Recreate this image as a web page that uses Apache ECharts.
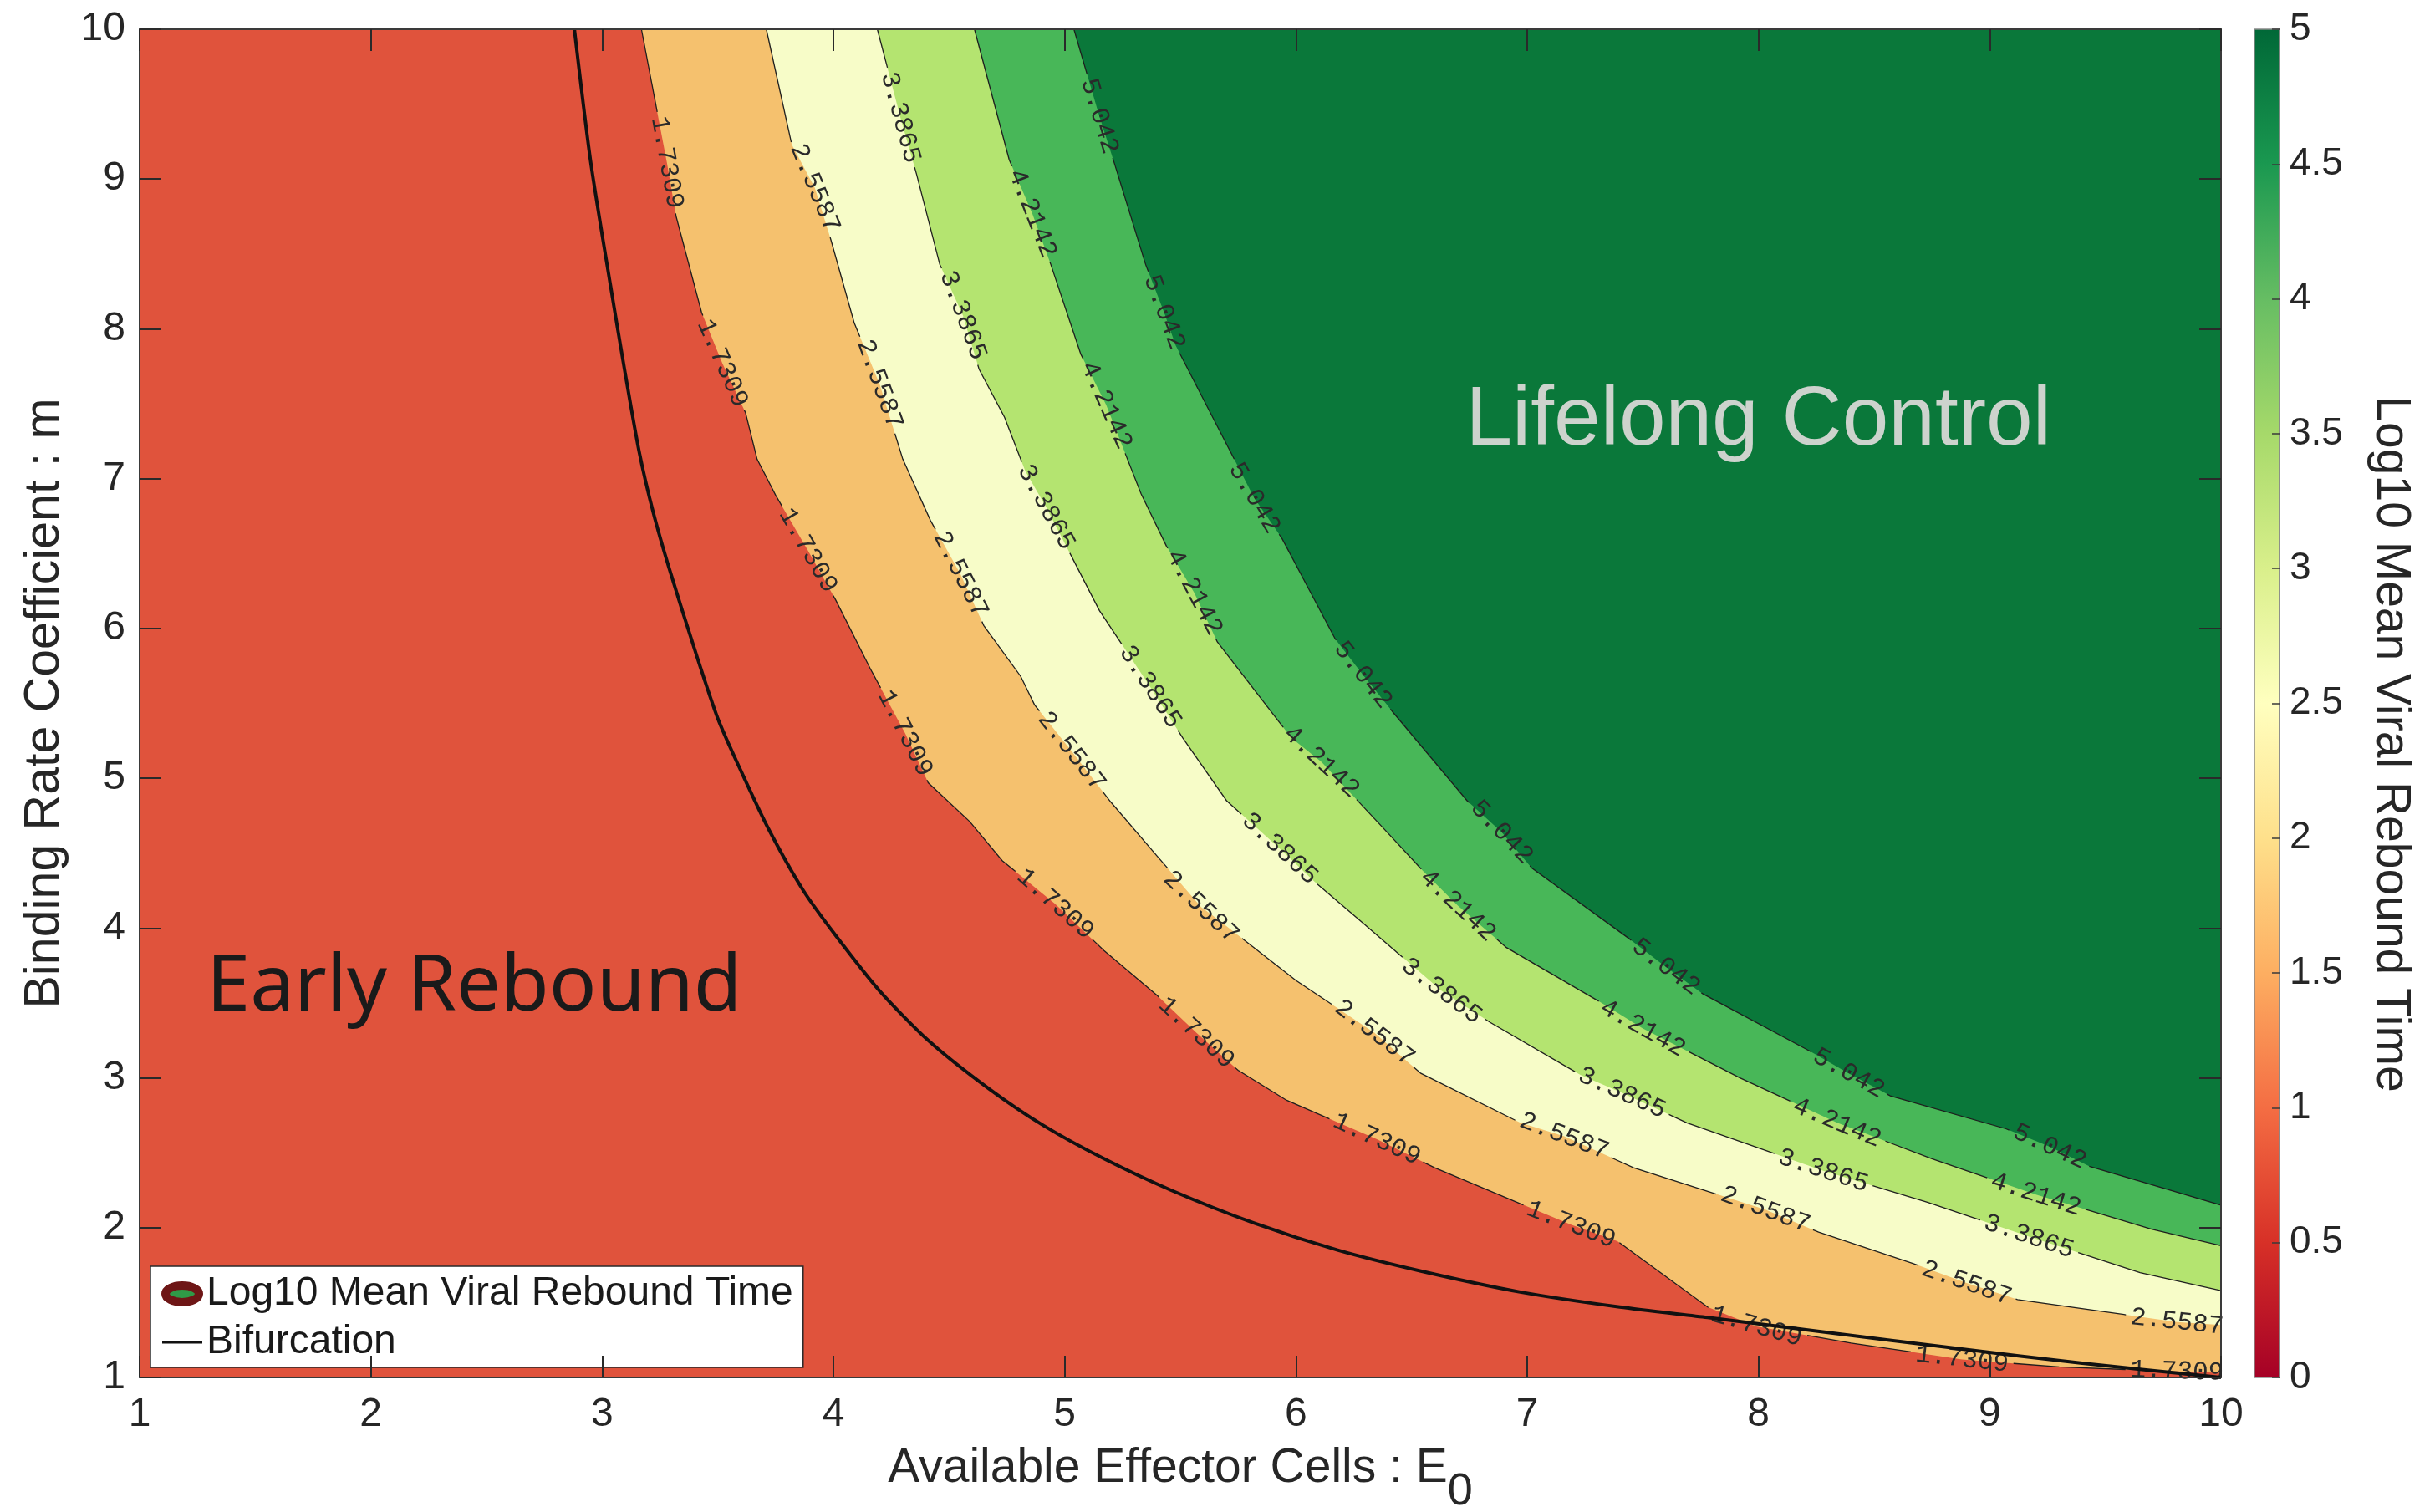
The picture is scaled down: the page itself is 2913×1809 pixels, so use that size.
<!DOCTYPE html>
<html>
<head>
<meta charset="utf-8">
<title>Mean viral rebound time</title>
<script src="https://cdn.jsdelivr.net/npm/echarts/dist/echarts.min.js"></script>
<style>
  html, body { margin: 0; padding: 0; background: #ffffff; }
  #chart { width: 2913px; height: 1809px; }
</style>
</head>
<body>
<div id="chart"></div>
<script>
// ---- axis ranges -------------------------------------------------------
const xLimits = [1, 10];          // available effector cells E0
const yLimits = [1, 10];          // binding rate coefficient m
const colorbarLimits = [0, 5];    // log10 mean viral rebound time

// ---- contour levels and band colours (lowest band first) ---------------
const levels = [1.7309, 2.5587, 3.3865, 4.2142, 5.042];
const levelText = ['1.7309', '2.5587', '3.3865', '4.2142', '5.042'];
const bandColors = ['#e0533c', '#f5c16e', '#f7fcc8', '#b4e470', '#48b758', '#0a783a'];

// ---- contour lines, [E0, m], from the top edge down to the right edge ---
const contourL1 = [[3.17,10],[3.28,9.11],[3.32,8.75],[3.43,8.11],[3.52,7.77],[3.62,7.44],[3.67,7.13],[3.75,6.89],
  [3.89,6.52],[4.01,6.19],[4.16,5.73],[4.31,5.30],[4.41,4.97],[4.59,4.71],[4.73,4.45],[4.96,4.16],[5.17,3.85],
  [5.40,3.55],[5.57,3.30],[5.75,3.05],[5.96,2.85],[6.35,2.59],[6.60,2.40],[6.97,2.16],[7.19,2.02],[7.39,1.91],
  [7.78,1.47],[7.99,1.34],[8.40,1.23],[8.88,1.12],[9.30,1.07],[9.81,1.04],[10,1.03]];
const contourL2 = [[3.71,10],[3.82,9.23],[3.92,8.94],[3.99,8.59],[4.09,8.04],[4.20,7.63],[4.30,7.13],[4.42,6.72],
  [4.55,6.36],[4.65,6.02],[4.81,5.68],[4.87,5.49],[5.03,5.18],[5.20,4.84],[5.40,4.48],[5.59,4.14],[5.66,4.06],
  [6.00,3.65],[6.34,3.30],[6.54,3.03],[6.97,2.70],[7.16,2.61],[7.46,2.40],[8.03,2.12],[8.26,1.97],[8.67,1.76],
  [8.90,1.63],[9.12,1.52],[9.58,1.42],[9.81,1.37],[10,1.35]];
const contourL3 = [[4.19,10],[4.29,9.41],[4.36,9.03],[4.46,8.43],[4.56,8.09],[4.63,7.73],[4.74,7.41],[4.83,7.05],
  [4.92,6.81],[5.15,6.12],[5.37,5.61],[5.51,5.27],[5.70,4.85],[5.93,4.53],[6.08,4.31],[6.30,4.02],[6.63,3.58],
  [6.84,3.37],[7.23,3.02],[7.41,2.90],[7.69,2.70],[8.28,2.38],[8.73,2.17],[9.17,1.94],[9.65,1.70],[10,1.58]];
const contourL4 = [[4.61,10],[4.76,9.13],[4.86,8.77],[4.94,8.43],[5.07,7.83],[5.18,7.49],[5.33,6.90],[5.44,6.55],
  [5.56,6.24],[5.66,5.91],[5.98,5.27],[6.11,5.11],[6.40,4.63],[6.55,4.38],[6.70,4.15],[6.91,3.87],[7.30,3.52],
  [7.50,3.33],[7.92,3.00],[8.34,2.70],[8.75,2.46],[9.20,2.22],[9.70,1.99],[10,1.88]];
const contourL5 = [[5.04,10],[5.15,9.42],[5.21,9.13],[5.35,8.43],[5.43,8.11],[5.48,7.89],[5.64,7.41],[5.82,6.87],
  [5.94,6.60],[6.17,5.93],[6.29,5.69],[6.42,5.44],[6.74,4.85],[6.89,4.64],[7.02,4.40],[7.44,3.93],[7.60,3.74],
  [7.76,3.56],[8.22,3.18],[8.39,3.03],[8.57,2.88],[9.07,2.66],[9.26,2.54],[9.43,2.41],[10,2.15]];

// ---- where each level's inline labels sit, [E0, m] ----------------------
const labelAtL1 = [[3.28,9.11],[3.52,7.77],[3.89,6.52],[4.31,5.30],[4.96,4.16],[5.57,3.30],[6.35,2.59],[7.19,2.02],[7.99,1.33],[8.88,1.12],[9.81,1.04]];
const labelAtL2 = [[3.92,8.94],[4.20,7.63],[4.55,6.36],[5.03,5.18],[5.59,4.14],[6.34,3.30],[7.16,2.61],[8.03,2.12],[8.90,1.63],[9.81,1.37]];
const labelAtL3 = [[4.29,9.41],[4.56,8.09],[4.92,6.81],[5.37,5.61],[5.93,4.53],[6.63,3.58],[7.41,2.90],[8.28,2.38],[9.17,1.94]];
const labelAtL4 = [[4.86,8.77],[5.18,7.49],[5.56,6.24],[6.11,5.11],[6.70,4.15],[7.50,3.33],[8.34,2.70],[9.20,2.22]];
const labelAtL5 = [[5.15,9.42],[5.43,8.11],[5.82,6.87],[6.29,5.69],[6.89,4.64],[7.60,3.74],[8.39,3.03],[9.26,2.54]];

// ---- bifurcation curve, [E0, m] ----------------------------------------
const bifurcation = [[2.88,10],[2.95,9.12],[3.035,8.30],[3.10,7.70],[3.16,7.18],[3.22,6.78],[3.29,6.40],[3.40,5.86],
  [3.50,5.40],[3.60,5.05],[3.72,4.66],[3.87,4.25],[4.01,3.95],[4.20,3.58],[4.41,3.25],[4.67,2.93],[4.91,2.68],
  [5.17,2.46],[5.46,2.25],[5.82,2.03],[6.18,1.85],[6.54,1.71],[6.97,1.57],[7.40,1.47],[7.78,1.40],[8.30,1.30],
  [8.85,1.195],[9.40,1.095],[10,1.0]];

// ---- colour bar (RdYlGn) ------------------------------------------------
const colorbarValues = [0, 0.5, 1, 1.5, 2, 2.5, 3, 3.5, 4, 4.5, 5];
const colorbarColors = ['#a50026','#d73027','#f46d43','#fdae61','#fee08b','#ffffbf','#d9ef8b','#a6d96a','#66bd63','#1a9850','#006837'];

// ---- region annotations -------------------------------------------------
const regionNoteText = ['Early Rebound', 'Lifelong Control'];
const regionNoteAt = [[2.447, 3.60], [8.0, 7.38]];

// ---- names --------------------------------------------------------------
const seriesName = 'Log10 Mean Viral Rebound Time';
const bifurcationName = 'Bifurcation';

const contours = [contourL1, contourL2, contourL3, contourL4, contourL5];
const labelSpots = [labelAtL1, labelAtL2, labelAtL3, labelAtL4, labelAtL5];
const bandOrder = [5, 4, 3, 2, 1, 0];   // painted back to front

const SANS = "'Liberation Sans', Arial, Helvetica, sans-serif";
const MONO = "'Liberation Mono', 'DejaVu Sans Mono', monospace";
const INK = '#262626';
const LABEL_SIZE = 31;

// ---- polyline helpers (pixel space) -------------------------------------
function arcLengths(pts) {
  const cum = [0];
  for (let i = 1; i < pts.length; i++) {
    cum.push(cum[i - 1] + Math.hypot(pts[i][0] - pts[i - 1][0], pts[i][1] - pts[i - 1][1]));
  }
  return cum;
}
function pointAt(pts, cum, s) {
  const total = cum[cum.length - 1];
  s = Math.max(0, Math.min(total, s));
  for (let i = 0; i < pts.length - 1; i++) {
    if (s <= cum[i + 1]) {
      const seg = cum[i + 1] - cum[i] || 1;
      const t = (s - cum[i]) / seg;
      return [pts[i][0] + t * (pts[i + 1][0] - pts[i][0]), pts[i][1] + t * (pts[i + 1][1] - pts[i][1])];
    }
  }
  return pts[pts.length - 1].slice();
}
function slicePolyline(pts, cum, a, b) {
  const out = [pointAt(pts, cum, a)];
  for (let i = 0; i < pts.length; i++) {
    if (cum[i] > a && cum[i] < b) out.push(pts[i]);
  }
  out.push(pointAt(pts, cum, b));
  return out;
}
function locate(pts, cum, p) {
  let best = null;
  for (let i = 0; i < pts.length - 1; i++) {
    const ax = pts[i][0], ay = pts[i][1];
    const dx = pts[i + 1][0] - ax, dy = pts[i + 1][1] - ay;
    const len2 = dx * dx + dy * dy || 1;
    let t = ((p[0] - ax) * dx + (p[1] - ay) * dy) / len2;
    t = Math.max(0, Math.min(1, t));
    const qx = ax + t * dx, qy = ay + t * dy;
    const d = Math.hypot(p[0] - qx, p[1] - qy);
    if (!best || d < best.d) best = { d: d, s: cum[i] + t * (cum[i + 1] - cum[i]) };
  }
  return best;
}

// ---- filled contour bands ----------------------------------------------
function renderBand(params, api) {
  const k = bandOrder[params.dataIndex];
  let ring;
  if (k === bandColors.length - 1) {
    ring = [[xLimits[0], yLimits[1]], [xLimits[1], yLimits[1]], [xLimits[1], yLimits[0]], [xLimits[0], yLimits[0]]];
  } else {
    ring = contours[k].concat([[xLimits[1], yLimits[0]], [xLimits[0], yLimits[0]], [xLimits[0], yLimits[1]]]);
  }
  return {
    type: 'polygon',
    shape: { points: ring.map(function (p) { return api.coord(p); }) },
    style: { fill: bandColors[k] }
  };
}

// ---- contour lines with inline level labels -----------------------------
function renderContour(params, api) {
  const k = params.dataIndex;
  const pts = contours[k].map(function (p) { return api.coord(p); });
  const cum = arcLengths(pts);
  const total = cum[cum.length - 1];
  const text = levelText[k];
  const half = text.length * 0.6 * LABEL_SIZE / 2 + 6;
  const spots = labelSpots[k].map(function (p) { return locate(pts, cum, api.coord(p)); })
    .sort(function (a, b) { return a.s - b.s; });
  const children = [];
  const lineStyle = { stroke: '#1e1e1e', lineWidth: 1.3, fill: null };
  let start = 0;
  spots.forEach(function (sp) {
    const a = sp.s - half;
    if (a > start) children.push({ type: 'polyline', shape: { points: slicePolyline(pts, cum, start, a) }, style: lineStyle });
    start = sp.s + half;
  });
  if (start < total) children.push({ type: 'polyline', shape: { points: slicePolyline(pts, cum, start, total) }, style: lineStyle });
  spots.forEach(function (sp) {
    const p0 = pointAt(pts, cum, sp.s - 45), p1 = pointAt(pts, cum, sp.s + 45);
    let ang = Math.atan2(p1[1] - p0[1], p1[0] - p0[0]);
    if (ang > Math.PI / 2) ang -= Math.PI;
    if (ang < -Math.PI / 2) ang += Math.PI;
    const c = pointAt(pts, cum, sp.s);
    children.push({
      type: 'text', x: c[0], y: c[1], rotation: -ang,
      style: { text: text, fontSize: LABEL_SIZE, fontFamily: MONO, fill: '#2a2a2a', align: 'center', verticalAlign: 'middle' }
    });
  });
  return { type: 'group', children: children };
}

// ---- region annotations ------------------------------------------------
function renderNote(params, api) {
  const i = params.dataIndex;
  const c = api.coord(regionNoteAt[i]);
  const early = i === 0;
  return {
    type: 'text', x: c[0], y: c[1],
    style: {
      text: regionNoteText[i],
      fontSize: early ? 94 : 100,
      fontFamily: early ? "'Noto Sans', 'Open Sans', sans-serif" : SANS,
      fill: early ? '#1a1a1a' : '#cdd3cd',
      align: 'center', verticalAlign: 'middle'
    }
  };
}

// ---- colour bar ---------------------------------------------------------
function renderColorbar(params, api) {
  const top = api.coord([0, colorbarLimits[1]]);
  const bottom = api.coord([1, colorbarLimits[0]]);
  const span = colorbarLimits[1] - colorbarLimits[0];
  const stops = colorbarValues.map(function (v, i) {
    return { offset: (v - colorbarLimits[0]) / span, color: colorbarColors[i] };
  });
  return {
    type: 'rect',
    shape: { x: top[0], y: top[1], width: bottom[0] - top[0], height: bottom[1] - top[1] },
    style: { fill: new echarts.graphic.LinearGradient(0, 1, 0, 0, stops), stroke: '#8a8a8a', lineWidth: 1.5 }
  };
}

const frameLine = { show: true, onZero: false, lineStyle: { color: '#3a3a3a', width: 2 } };
const innerTick = { show: true, inside: true, length: 26, lineStyle: { color: '#2a2a2a', width: 2 } };

const chart = echarts.init(document.getElementById('chart'), null, { renderer: 'canvas' });
chart.setOption({
  animation: false,
  backgroundColor: '#ffffff',
  grid: [
    { left: 167, top: 35, width: 2490, height: 1613, containLabel: false, outerBoundsMode: 'none' },
    { left: 2697, top: 35, width: 30, height: 1613, containLabel: false, outerBoundsMode: 'none' }
  ],
  xAxis: [
    {
      gridIndex: 0, type: 'value', position: 'bottom', min: xLimits[0], max: xLimits[1], interval: 1, z: 10,
      axisLine: frameLine, axisTick: innerTick, splitLine: { show: false },
      axisLabel: { fontSize: 48, fontFamily: SANS, color: INK, margin: 21 },
      name: '{t|Available Effector Cells : E}{s|0}',
      nameLocation: 'middle', nameGap: 54, nameMoveOverlap: false,
      nameTextStyle: {
        color: INK, fontFamily: SANS, fontSize: 57,
        rich: {
          t: { fontSize: 57, fontFamily: SANS, color: INK },
          s: { fontSize: 54, fontFamily: SANS, color: INK, padding: [56, 0, 0, 0] }
        }
      }
    },
    {
      gridIndex: 0, type: 'value', position: 'top', min: xLimits[0], max: xLimits[1], interval: 1, z: 10,
      axisLine: frameLine, axisTick: innerTick, axisLabel: { show: false }, splitLine: { show: false }
    },
    { gridIndex: 1, type: 'value', min: 0, max: 1, show: false }
  ],
  yAxis: [
    {
      gridIndex: 0, type: 'value', position: 'left', min: yLimits[0], max: yLimits[1], interval: 1, z: 10,
      axisLine: frameLine, axisTick: innerTick, splitLine: { show: false },
      axisLabel: { fontSize: 48, fontFamily: SANS, color: INK, margin: 17 },
      name: 'Binding Rate Coefficient : m',
      nameLocation: 'middle', nameGap: 84, nameMoveOverlap: false,
      nameTextStyle: { color: INK, fontFamily: SANS, fontSize: 59 }
    },
    {
      gridIndex: 0, type: 'value', position: 'right', min: yLimits[0], max: yLimits[1], interval: 1, z: 10,
      axisLine: frameLine, axisTick: innerTick, axisLabel: { show: false }, splitLine: { show: false }
    },
    {
      gridIndex: 1, type: 'value', position: 'right', min: colorbarLimits[0], max: colorbarLimits[1], interval: 0.5, z: 10,
      axisLine: { show: true, onZero: false, lineStyle: { color: '#8a8a8a', width: 1.5 } },
      axisTick: { show: true, inside: true, length: 9, lineStyle: { color: '#3a3a3a', width: 1.5 } },
      axisLabel: { fontSize: 46, fontFamily: SANS, color: INK, margin: 12 },
      splitLine: { show: false }
    }
  ],
  legend: {
    orient: 'vertical', left: 180, top: 1515,
    padding: [7, 12, 4, 9], itemGap: 6, itemWidth: 48, itemHeight: 28,
    symbolKeepAspect: false, selectedMode: false,
    backgroundColor: '#ffffff', borderColor: '#2a2a2a', borderWidth: 1.5, borderRadius: 0,
    textStyle: { fontSize: 48, fontFamily: SANS, color: '#1a1a1a', lineHeight: 52 },
    data: [
      {
        name: seriesName,
        icon: 'path://M0,0M100,100M50,14.3A41.7,35.7,0,1,1,50,85.7A41.7,35.7,0,1,1,50,14.3Z',
        itemStyle: { color: '#2f9a47', borderColor: '#6e1616', borderWidth: 10 }
      },
      {
        name: bifurcationName,
        icon: 'path://M0,0M0,45L100,45L100,55L0,55ZM100,100',
        itemStyle: { color: '#111111', borderWidth: 0 }
      }
    ]
  },
  graphic: [
    {
      type: 'text', x: 2860, y: 890, rotation: -Math.PI / 2,
      style: { text: seriesName, fontSize: 57, fontFamily: SANS, fill: INK, align: 'center', verticalAlign: 'middle' }
    }
  ],
  series: [
    {
      type: 'custom', name: seriesName, xAxisIndex: 0, yAxisIndex: 0, silent: true, z: 1,
      data: bandOrder, renderItem: renderBand
    },
    {
      type: 'custom', xAxisIndex: 0, yAxisIndex: 0, silent: true, z: 3, clip: false,
      data: levels, renderItem: renderContour
    },
    {
      type: 'line', name: bifurcationName, xAxisIndex: 0, yAxisIndex: 0, silent: true, z: 4,
      data: bifurcation, symbol: 'none', showSymbol: false, smooth: 0.25,
      lineStyle: { color: '#111111', width: 4 }, itemStyle: { color: '#111111' }
    },
    {
      type: 'custom', xAxisIndex: 0, yAxisIndex: 0, silent: true, z: 5, clip: false,
      data: regionNoteText, renderItem: renderNote
    },
    {
      type: 'custom', xAxisIndex: 2, yAxisIndex: 2, silent: true, z: 1,
      data: [0], renderItem: renderColorbar
    }
  ]
});
</script>
</body>
</html>
